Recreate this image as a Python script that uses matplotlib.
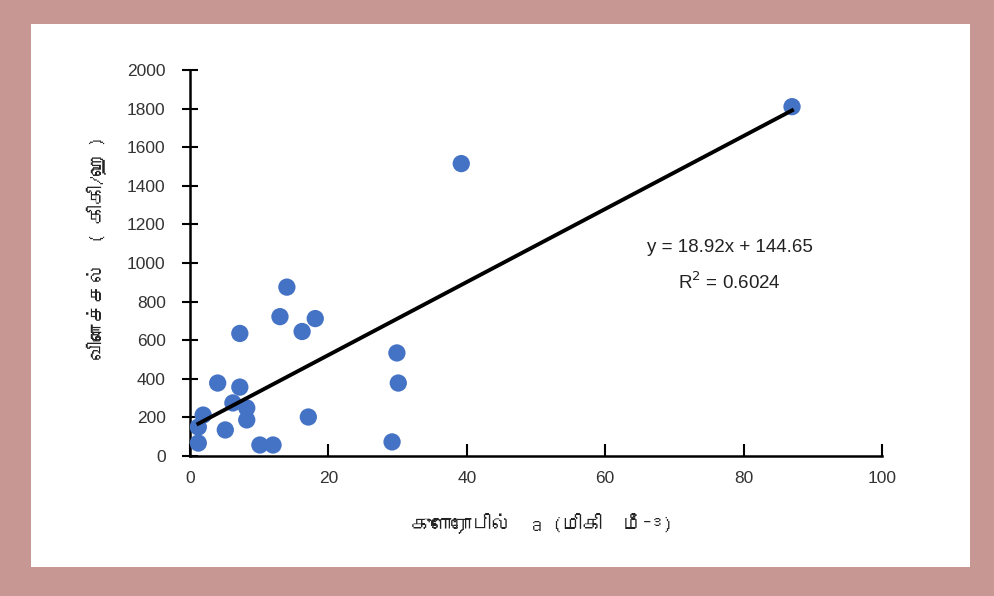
import matplotlib
matplotlib.use("Agg")
import matplotlib.pyplot as plt
from matplotlib import font_manager
from matplotlib.ft2font import FT2Font
from matplotlib.patches import Rectangle
import numpy as np

# chlorophyll a (x) vs yield (y)
chl_a = [87, 39.2, 14.0, 13.0, 18.1, 16.2, 7.2, 29.9, 30.1, 29.2,
         4.0, 7.2, 1.9, 6.2, 8.2, 8.2, 5.1, 1.2, 1.2, 10.1, 12.0, 17.1]
yield_ = [1810, 1515, 875, 722, 712, 645, 635, 534, 378, 73,
          378, 357, 212, 275, 249, 187, 135, 150, 67, 57, 57, 202]

slope = 18.92
intercept = 144.65
r2 = 0.6024

x_ticks = [0, 20, 40, 60, 80, 100]
y_ticks = [0, 200, 400, 600, 800, 1000, 1200, 1400, 1600, 1800, 2000]

y_label = "விளைச்சல்  ( கிகி/ஹெ )"
x_label = "குளோரோபில்  a (மிகி  மீ⁻³)"


def find_tamil_font():
    """look for any installed font that has Tamil glyphs"""
    for f in font_manager.fontManager.ttflist:
        try:
            cmap = FT2Font(f.fname).get_charmap()
        except Exception:
            continue
        if 0x0B95 in cmap and 0x0BBF in cmap:
            return f.name
    return None


tamil = find_tamil_font()
label_family = [tamil, "DejaVu Sans"] if tamil else ["DejaVu Sans"]

plt.rcParams['font.family'] = ['Liberation Sans', 'DejaVu Sans']

fig = plt.figure(figsize=(9.94, 5.96), dpi=100)
fig.patch.set_facecolor('#c79793')
fig.patches.append(Rectangle((31/994, 29/596), 939/994, 543/596,
                             transform=fig.transFigure, facecolor='white',
                             edgecolor='none', zorder=-5))

ax = fig.add_axes([190/994, 140/596, 692/994, 386/596])
ax.set_facecolor('none')

ax.scatter(chl_a, yield_, s=155, color='#4472c4', edgecolors='none', zorder=3)

xl = np.array([min(chl_a), max(chl_a)])
ax.plot(xl, slope*xl + intercept, color='black', lw=2.8, zorder=4)

ax.text(78, 1078, f"y = {slope}x + {intercept}", ha='center', va='center',
        fontsize=13.5, color='#222222')
ax.text(78, 898, f"R$^2$ = {r2}", ha='center', va='center',
        fontsize=13.5, color='#222222')

ax.set_xlim(0, 100)
ax.set_ylim(0, 2000)
ax.set_xticks(x_ticks)
ax.set_yticks(y_ticks)
for s in ['top', 'right']:
    ax.spines[s].set_visible(False)
for s in ['left', 'bottom']:
    ax.spines[s].set_linewidth(1.8)
    ax.spines[s].set_color('black')
ax.tick_params(axis='x', direction='in', length=9, width=1.5, pad=11,
               labelsize=12.5, labelcolor='#333333')
ax.tick_params(axis='y', direction='inout', length=11, width=1.5, pad=12,
               labelsize=12.5, labelcolor='#333333')

fig.text(97/994, 1 - 248/596, y_label, rotation=90, ha='center', va='center',
         fontsize=14, family=label_family, color='#222222')
fig.text(542/994, 1 - 523/596, x_label, ha='center', va='center',
         fontsize=14.5, family=label_family, color='#222222')

fig.savefig('out.png', dpi=100)
